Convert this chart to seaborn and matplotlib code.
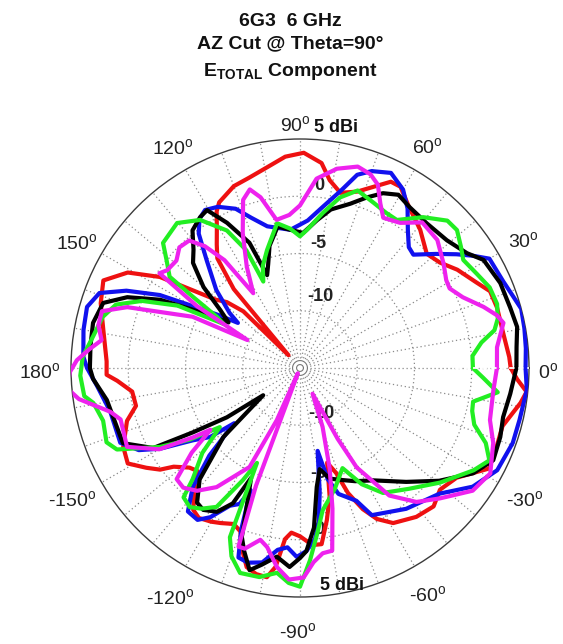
import numpy as np
import pandas as pd
import matplotlib
matplotlib.use("Agg")
import matplotlib.pyplot as plt
import seaborn as sns

# ---------------- data (angle in degrees, gain in dBi) ----------------
red_deg = [0, 3, 10, 17, 22, 26, 32, 37, 42, 49, 56, 61, 64, 67, 72, 77, 81, 84, 89, 94, 99, 105, 110, 116, 118,
           121, 124, 127, 130, 132, 135, 138, 141, 144, 147, 151, 156, 162, 169, 178, 182, 184, 188, 193, 197, 204,
           209, 213, 216, 218, 222, 225, 229, 233, 236, 240, 243, 247, 250, 252, 255, 258, 261, 263, 265, 267, 270,
           274, 277, 280, 283, 286, 289, 291, 294, 297, 301, 308, 314, 319, 325, 332, 338, 344, 351, 354, 357, 360]
red_db = [3.4, 3.3, 3.0, 3.0, 2.9, 2.1, 1.2, 0.3, -0.1, 1.0, 2.0, 3.1, 3.1, 2.3, 1.2, 0.7, 1.6, 3.0, 3.8, 3.5, 2.8, 2.2,
          1.9, 1.1, 0.5, -0.9, -2.0, -3.0, -6.0, -13.5, -8.0, -6.4, -5.5, -3.5, -0.4, 2.2, 3.8, 3.3, 2.5, 1.9, 1.9, 1.0,
          -0.2, -0.3, 0.8, 1.9, 2.2, 1.0, 0.1, -1.0, -2.0, -2.3, -1.0, 0.5, 0.8, 0.5, 0.2, -0.2, 0.2, 1.5, 3.0, 3.4,
          3.5, 2.5, 0.0, -0.6, -0.3, 0.5, 0.5, -1.5, -3.5, -6.4, -5.3, -3.3, -1.5, -0.2, 0.8, 1.5, 1.8, 1.2, 1.7, 3.7,
          3.5, 3.4, 4.5, 4.9, 4.0, 3.4]

blue_deg = [0, 5, 10, 15, 19, 23, 30, 33, 36, 40, 45, 48, 52, 56, 60, 65, 70, 73.5, 77, 82, 87, 94, 103, 108, 112, 117,
            121, 124, 127, 131, 137, 142, 144, 147, 150, 152.5, 156, 159.5, 164, 170, 177, 180, 185, 193, 202.6, 207,
            210, 214, 217.5, 220, 224, 228, 232, 236, 239, 243, 246, 248, 250, 252, 255, 259, 263, 266, 269, 272, 275,
            277, 279, 282, 284, 287, 293, 296, 307, 318, 325.5, 332.6, 340.6, 346.7, 354.5, 360]
blue_db = [4.7, 4.8, 4.9, 5.0, 4.6, 4.3, 4.1, 3.0, 1.9, 0.5, -1.0, -0.8, 0.3, 1.8, 3.0, 3.8, 3.3, 2.6, 0.9, -0.8, -2.1,
           -2.9, -2.3, -1.2, 0.0, 0.8, 1.1, 0.7, -0.3, -2.6, -5.0, -7.2, -8.3, -6.5, -4.2, -1.2, 1.6, 3.7, 4.35, 4.2,
           3.95, 3.6, 2.8, 2.0, 2.0, 0.8, -0.9, -3.7, -5.1, -7.5, -4.0, -1.0, 0.9, 1.0, 0.2, -1.5, -2.0, -3.5, 0.0, 2.4,
           2.6, 2.3, 1.0, 0.7, 1.5, 1.0, 0.0, -1.5, -4.0, -7.6, -5.0, -3.5, -2.4, -0.7, 0.4, 1.4, 3.3, 4.4, 4.7, 4.7,
           4.9, 4.7]

black_deg = [0, 5.5, 10.7, 16, 23, 30.5, 34.5, 41, 48.8, 55.7, 60.4, 64.6, 68.6, 73, 79, 83.4, 88.7, 94, 99, 104, 107,
             109.5, 112, 116.7, 120.5, 123.5, 128, 132, 135.5, 140, 144, 147.5, 151.5, 154, 157.7, 161.7, 167.7, 174,
             180, 183, 189.4, 198, 203, 208.6, 211, 214, 216.5, 222, 228, 232.6, 235.7, 240, 243.6, 246, 249, 251, 253,
             256, 259, 263, 267, 270, 272, 275, 278, 281, 285, 290, 296, 303, 313, 321, 328.7, 334.5, 341, 346.4, 353,
             360]
black_db = [3.9, 4.0, 4.3, 4.1, 4.0, 3.6, 2.7, 2.0, 1.8, 2.0, 2.4, 1.9, 1.0, 0.0, -0.9, -2.0, -3.2, -2.9, -2.5, -4.0,
            -5.5, -6.4, -3.2, -0.8, 1.0, 0.8, 0.25, -1.1, -1.9, -4.0, -6.4, -7.6, -4.3, -1.4, 1.3, 3.1, 3.5, 3.4, 3.35,
            3.1, 2.1, 1.8, 1.8, -0.4, -4.1, -7.3, -11.0, -6.0, -1.9, -0.2, 0.0, -0.5, -1.8, -4.5, -2.0, 0.6, 1.7, 3.2,
            2.5, 1.6, 2.4, 1.6, 1.0, -1.0, -4.5, -6.0, -5.0, -4.6, -4.0, -3.3, -1.4, 0.65, 2.7, 3.7, 3.5, 3.25, 3.5, 3.9]

green_deg = [0, 4, 8, 11, 14, 18, 23, 28, 33.5, 37, 41.3, 45, 50.8, 56.8, 61, 66, 72, 76.8, 81.6, 87, 90, 94, 99, 105.6,
             110, 113, 114.5, 118, 124, 130.3, 137.6, 141, 145, 146.4, 148.4, 150, 153, 157, 161, 165.5, 171.5, 177,
             182, 187.4, 189.6, 195, 201, 204, 209.4, 213, 216.4, 221, 224, 226, 228, 231.6, 235, 239, 243, 245.6,
             247.5, 250, 253.7, 259, 263.6, 267, 270, 273, 276, 279, 286, 293, 298, 303.6, 312, 320.7, 329.5, 334,
             338, 342, 346, 349, 353, 357, 360]
green_db = [0.1, 0.1, 1.0, 2.3, 2.8, 3.1, 3.0, 2.5, 2.1, 2.6, 3.25, 3.2, 2.0, 0.45, 0.5, 0.8, 1.3, 0.3, -1.3, -2.9,
            -3.5, -2.8, -2.2, -4.3, -5.5, -6.8, -3.7, -1.4, 0.6, 1.6, 1.2, 0.0, -1.1, -3.8, -6.5, -7.3, -3.0, 0.0, 2.0,
            2.8, 3.3, 4.0, 4.2, 4.0, 3.3, 2.8, 3.1, 2.5, -0.95, -3.5, -6.3, -3.7, -2.5, -1.5, 0.2, 0.5, 0.0, -0.85,
            -4.0, -5.9, 1.0, 2.5, 3.65, 3.6, 3.0, 3.8, 4.1, 1.8, -0.5, -2.4, -4.0, -5.5, -3.5, -1.9, -0.8, 0.8, 2.6,
            3.4, 2.5, 1.0, 0.5, 0.4, 2.4, 1.0, 0.1]

magenta_deg = [0, 6, 12.5, 15, 18.4, 23.5, 28, 31, 36, 43, 50, 55.4, 61, 64, 67, 70, 74, 79.5, 85, 90, 94, 99, 103,
               105.7, 108.7, 113, 117.7, 122, 125, 128, 131, 135, 139, 143.6, 146, 149, 152, 154.5, 160.6, 164, 168,
               172, 175, 178, 181, 185, 188, 193, 196, 204.5, 210, 213, 214.6, 218, 222, 225.7, 230, 235, 243, 246,
               248, 249.5, 251, 253, 257, 259.6, 263.4, 267, 271, 274, 277, 280, 283, 286.4, 291, 296, 298, 299.7,
               305, 311, 317, 324.6, 331, 338.8, 344.7, 353.5, 360]
magenta_db = [2.2, 2.3, 3.2, 2.8, 1.9, 0.5, -0.2, -0.1, 0.5, 1.4, 1.6, 0.4, 0.0, 1.0, 2.4, 3.0, 3.3, 2.7, 1.6, -0.8,
              -1.6, -1.9, 0.3, 1.2, 0.5, -2.2, -5.0, -7.3, -3.5, -1.5, -0.25, -0.1, -0.7, -0.6, -0.2, -4.5, -9.8, -4.6,
              1.0, 3.0, 3.0, 2.5, 3.5, 4.5, 5.1, 5.4, 4.5, 2.0, 1.3, 1.6, -0.8, -3.9, -5.5, -3.0, -0.5, -0.4, -1.0,
              -2.3, -5.3, -10.0, -14.5, -4.0, 1.5, 1.5, 0.4, 0.9, 2.5, 3.5, 3.3, 2.0, 1.3, 1.2, -2.4, -5.8, -9.5,
              -12.5, -8.0, -5.0, -1.4, 0.5, 1.7, 3.5, 4.0, 3.1, 2.2, 2.0, 2.2]

series_names = ["red", "blue", "black", "green", "magenta"]
series_colors = ["#ee1111", "#1111ee", "#000000", "#22ee22", "#ee22ee"]
series_deg = [red_deg, blue_deg, black_deg, green_deg, magenta_deg]
series_db = [red_db, blue_db, black_db, green_db, magenta_db]

ring_values = [-10, -5, 0]
ring_labels = ["-10", "-5", "0"]
angle_ticks = [0, 30, 60, 90, 120, 150, 180, -150, -120, -90, -60, -30]

title_lines = ["6G3  6 GHz", "AZ Cut @ Theta=90\u00b0", r"$\mathbf{E}_{\mathbf{TOTAL}}$ Component"]

# ---------------- style ----------------
sns.set_theme(style="white")
plt.rcParams["font.family"] = ["Liberation Sans", "DejaVu Sans"]
plt.rcParams["mathtext.fontset"] = "custom"
plt.rcParams["mathtext.rm"] = "Liberation Sans"
plt.rcParams["mathtext.bf"] = "Liberation Sans:bold"
plt.rcParams["mathtext.it"] = "Liberation Sans:italic"

W, H = 563, 644
fig = plt.figure(figsize=(W / 100, H / 100), dpi=100)
fig.patch.set_facecolor("white")
cx, cy, R = 300, 368, 229
ax = fig.add_axes([(cx - R) / W, (H - cy - R) / H, 2 * R / W, 2 * R / H], projection="polar")
RMIN, RMAX = -15, 5
ax.set_ylim(RMIN, RMAX)
ax.grid(False)
ax.set_xticks([])
ax.set_yticks([])
ax.set_facecolor("white")
ax.spines["polar"].set_color("#3a3a3a")
ax.spines["polar"].set_linewidth(1.0)

# grid
full = np.linspace(0, 2 * np.pi, 361)
grid_kw = dict(color="#8a8a8a", lw=0.9, ls=(0, (1, 2.2)), zorder=1)
for rv in ring_values:
    ax.plot(full, np.full_like(full, rv), **grid_kw)
for a in range(0, 360, 10):
    t = np.deg2rad(a)
    ax.plot([t, t], [RMIN + 0.9, RMAX], **grid_kw)
for rv in [RMIN + 0.3, RMIN + 0.65]:
    ax.plot(full, np.full_like(full, rv), color="#777777", lw=0.8, zorder=1)


def px(x, y):
    return x / W, 1 - y / H


# radial labels (upper visible, lower partly covered by curves)
for s, (x, y) in zip(ring_labels, [(320, 297), (318, 243), (319, 185)]):
    ax.text(*px(x, y), s, transform=fig.transFigure, ha="center", va="center",
            fontsize=13, fontweight="bold", color="#222222", zorder=1.5)
for s, (x, y) in zip(ring_labels, [(321, 413), (318, 473), (319, 530)]):
    ax.text(*px(x, y), s, transform=fig.transFigure, ha="center", va="center",
            fontsize=13, fontweight="bold", color="#222222", zorder=1.5)

# curves
for name, col, d, g in zip(series_names, series_colors, series_deg, series_db):
    df = pd.DataFrame({"theta": np.deg2rad(d), "gain": g})
    sns.lineplot(data=df, x="theta", y="gain", ax=ax, sort=False, estimator=None,
                 color=col, lw=3.0, zorder=3)
ax.set_xlabel("")
ax.set_ylabel("")
ax.set_ylim(RMIN, RMAX)

# white dashed segment along 0 deg
ax.plot([0, 0], [-1.5, RMAX], color="white", lw=1.3, ls=(0, (3, 2)), zorder=4)

# angle labels
angle_pos = {0: (548, 372), 30: (523, 241), 60: (427, 147), 90: (295, 125), 120: (173, 148),
             150: (77, 243), 180: (40, 372), -150: (72, 500), -120: (170, 598), -90: (298, 632),
             -60: (428, 595), -30: (525, 500)}
for a in angle_ticks:
    x, y = angle_pos[a]
    fig.text(*px(x, y), r"%d$^{\mathrm{o}}$" % a, ha="center", va="center", fontsize=14, color="#222222")

# dBi labels
fig.text(*px(336, 128), "5 dBi", ha="center", va="center", fontsize=13, fontweight="bold", color="#111111")
fig.text(*px(342, 585), "5 dBi", ha="center", va="center", fontsize=13, fontweight="bold", color="#111111")

# title
for s, y in zip(title_lines, [21, 44, 71]):
    fig.text(*px(290, y), s, ha="center", va="center", fontsize=14, fontweight="bold", color="#111111")

fig.savefig("out.png", dpi=100, facecolor="white")
